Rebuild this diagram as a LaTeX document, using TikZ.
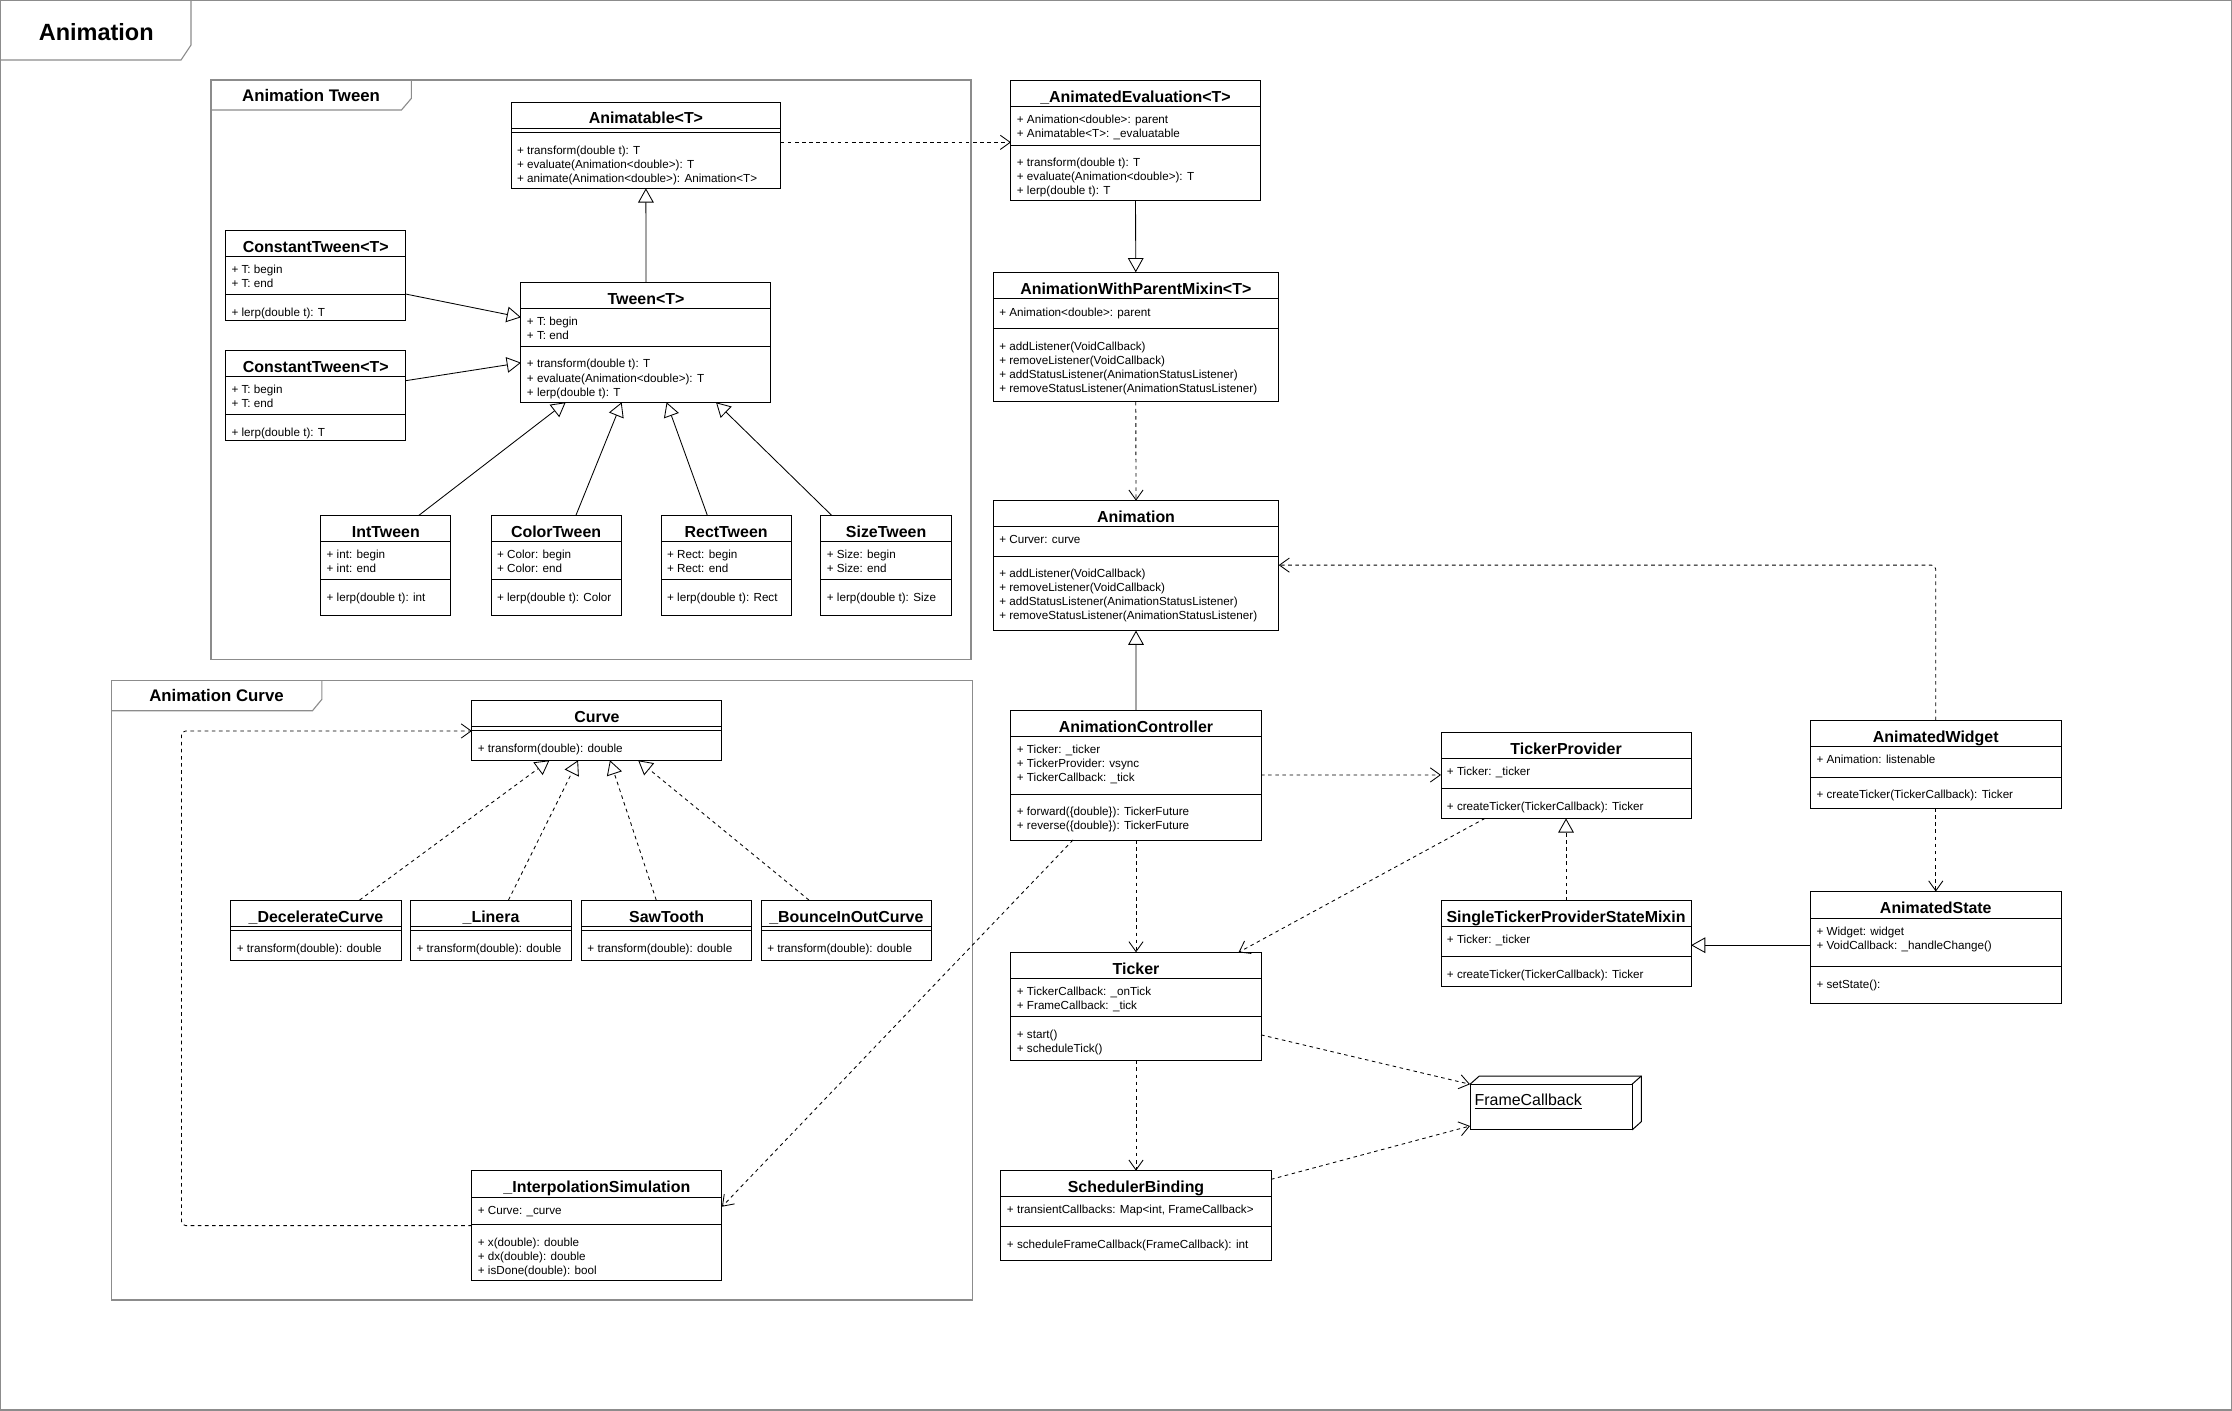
\documentclass[tikz,border=0pt]{standalone}
\usepackage{fontspec}
\setmainfont{Liberation Sans}
\usetikzlibrary{arrows.meta, calc}
\definecolor{frame3}{HTML}{8C8C8C}

% #1 id, #2 top left, #3 width, #4 height, #5 header, #6 separator, #7 name, #8 fields, #9 methods
\newcommand{\umlclass}[9]{%
  \node[classbox, minimum width=#3pt, minimum height=#4pt, anchor=north west] (#1) at (#2) {};
  \node[classname] (#1-name) at ($(#1.north)+(0,-#5+3)$) {#7};
  \draw[boxline] ($(#1.north west)+(0,-#5)$) -- ($(#1.north east)+(0,-#5)$);
  \draw[boxline] ($(#1.north west)+(0,-#6)$) -- ($(#1.north east)+(0,-#6)$);
  \foreach \m [count=\i] in {#8} {\node[member] (#1-a\i) at ($(#1.north west)+(4,-#5-12-9.9*\i+9.9)$) {\m};}
  \foreach \m [count=\i] in {#9} {\node[member] (#1-m\i) at ($(#1.north west)+(4,-#6-15.2-9.9*\i+9.9)$) {\m};}
}

\begin{document}
\begin{tikzpicture}[x=1pt, y=1pt,
  classbox/.style={draw=black, line width=0.7pt, fill=white, inner sep=0pt, outer sep=0pt},
  boxline/.style={black, line width=0.7pt},
  classname/.style={font=\fontsize{11.2}{13}\selectfont\bfseries, inner sep=0pt, anchor=base},
  member/.style={font=\fontsize{8.2}{10}\selectfont, inner sep=0pt, anchor=base west},
  frame/.style={draw=frame3, line width=0.8pt},
  inherit/.style={line width=0.6pt, -{Triangle[open, length=10pt, width=11pt]}},
  realize/.style={inherit, dash pattern=on 2.5pt off 2.5pt},
  depend/.style={line width=0.6pt, dash pattern=on 2.5pt off 2.5pt, -{Straight Barb[length=7pt, width=10pt]}}]

  \useasboundingbox (0,0) rectangle (1568,-991);

  % packages
  \draw[frame] (0.5,-0.5) rectangle (1567.5,-990.5);
  \draw[frame] (0.5,-42.1) -- (127.2,-42.1) -- (134.2,-31.6) -- (134.2,-0.5);
  \node[anchor=base, inner sep=0pt, font=\fontsize{16.5}{18}\selectfont\bfseries] (title) at (67.6,-28.6) {Animation};

  \draw[frame] (148.2,-56.2) rectangle (682.1,-463.2);
  \draw[frame] (148.2,-77.3) -- (282,-77.3) -- (289,-69.1) -- (289,-56.2);
  \node[anchor=base, inner sep=0pt, font=\fontsize{11.8}{14}\selectfont\bfseries] (tweenPkg) at (218.5,-71.6) {Animation Tween};

  \draw[frame] (78.1,-478.2) rectangle (683.2,-913.2);
  \draw[frame] (78.1,-499.3) -- (219.5,-499.3) -- (226.1,-491.3) -- (226.1,-478.2);
  \node[anchor=base, inner sep=0pt, font=\fontsize{11.8}{14}\selectfont\bfseries] (curvePkg) at (152.1,-493.1) {Animation Curve};

  % Animation Tween
  \umlclass{animatable}{359,-72}{189.5}{60.3}{18}{21}{Animatable<T>}{}
    {+ transform(double t): T, + evaluate(Animation<double>): T, + animate(Animation<double>): Animation<T>}
  \umlclass{tween}{366,-198.3}{175.6}{84.3}{18.6}{45}{Tween<T>}{+ T: begin, + T: end}
    {+ transform(double t): T, + evaluate(Animation<double>): T, + lerp(double t): T}
  \umlclass{constA}{158.5,-161.8}{126.7}{63.2}{18.3}{45.2}{ConstantTween<T>}{+ T: begin, + T: end}{+ lerp(double t): T}
  \umlclass{constB}{158.5,-246.1}{126.7}{63.2}{18.3}{45.2}{ConstantTween<T>}{+ T: begin, + T: end}{+ lerp(double t): T}
  \umlclass{intTween}{225.3,-362}{91.5}{70.2}{18.5}{45.2}{IntTween}{+ int: begin, + int: end}{+ lerp(double t): int}
  \umlclass{colorTween}{345,-362}{91.3}{70.2}{18.5}{45.2}{ColorTween}{+ Color: begin, + Color: end}{+ lerp(double t): Color}
  \umlclass{rectTween}{464.5,-362}{91.2}{70.2}{18.5}{45.2}{RectTween}{+ Rect: begin, + Rect: end}{+ lerp(double t): Rect}
  \umlclass{sizeTween}{576.7,-362}{91.6}{70.2}{18.5}{45.2}{SizeTween}{+ Size: begin, + Size: end}{+ lerp(double t): Size}

  % Animation Curve
  \umlclass{curve}{331.5,-492.2}{175.7}{41.9}{18.3}{21.1}{Curve}{}{+ transform(double): double}
  \umlclass{decel}{162.2,-632.3}{119.6}{42.3}{18.7}{21.3}{\_DecelerateCurve}{}{+ transform(double): double}
  \umlclass{linera}{288.5,-632.3}{112.9}{42.3}{18.7}{21.3}{\_Linera}{}{+ transform(double): double}
  \umlclass{sawTooth}{408.5,-632.3}{119.6}{42.3}{18.7}{21.3}{SawTooth}{}{+ transform(double): double}
  \umlclass{bounce}{534.8,-632.3}{119.6}{42.3}{18.7}{21.3}{\_BounceInOutCurve}{}{+ transform(double): double}
  \umlclass{interp}{331.5,-822.2}{175.7}{77.2}{18.7}{38.1}{\_InterpolationSimulation}{+ Curve: \_curve}
    {+ x(double): double, + dx(double): double, + isDone(double): bool}

  % right column
  \umlclass{animEval}{710.2,-56.7}{175}{84}{18.2}{45.2}{\_AnimatedEvaluation<T>}
    {+ Animation<double>: parent, + Animatable<T>: \_evaluatable}
    {+ transform(double t): T, + evaluate(Animation<double>): T, + lerp(double t): T}
  \umlclass{parentMixin}{697.8,-191.3}{200.2}{91}{18.7}{39.4}{AnimationWithParentMixin<T>}{+ Animation<double>: parent}
    {+ addListener(VoidCallback), + removeListener(VoidCallback), + addStatusListener(AnimationStatusListener), + removeStatusListener(AnimationStatusListener)}
  \umlclass{animation}{697.8,-351.7}{200.5}{91.3}{18.3}{38.9}{Animation}{+ Curver: curve}
    {+ addListener(VoidCallback), + removeListener(VoidCallback), + addStatusListener(AnimationStatusListener), + removeStatusListener(AnimationStatusListener)}
  \umlclass{controller}{710.2,-498.8}{175.7}{91.3}{18.7}{59}{AnimationController}
    {+ Ticker: \_ticker, + TickerProvider: vsync, + TickerCallback: \_tick}
    {+ forward(\{double\}): TickerFuture, + reverse(\{double\}): TickerFuture}
  \umlclass{ticker}{710.2,-669}{175.7}{75.9}{18.5}{45.2}{Ticker}{+ TickerCallback: \_onTick, + FrameCallback: \_tick}
    {+ start(), + scheduleTick()}
  \umlclass{scheduler}{703.2,-822.4}{189.7}{62.8}{18.3}{39.3}{SchedulerBinding}
    {{+ transientCallbacks: Map<int, FrameCallback>}}{+ scheduleFrameCallback(FrameCallback): int}
  \umlclass{tickerProvider}{1012.3,-514.7}{175.7}{60.2}{18.3}{39.4}{TickerProvider}{+ Ticker: \_ticker}
    {+ createTicker(TickerCallback): Ticker}
  \umlclass{singleTicker}{1012.3,-632.7}{175.7}{60.2}{18.3}{39.4}{SingleTickerProviderStateMixin}{+ Ticker: \_ticker}
    {+ createTicker(TickerCallback): Ticker}
  \umlclass{animWidget}{1271.9,-506}{176}{61.7}{18.6}{40}{AnimatedWidget}{+ Animation: listenable}
    {+ createTicker(TickerCallback): Ticker}
  \umlclass{animState}{1271.9,-626.3}{176}{78.6}{18.6}{52.9}{AnimatedState}{+ Widget: widget, + VoidCallback: \_handleChange()}
    {+ setState():}

  % FrameCallback node
  \node[classbox, minimum width=113.8pt, minimum height=32.1pt, anchor=north west] (frameCb) at (1032.7,-761.7) {};
  \draw[boxline] (frameCb.north west) -- ++(6.5,5.8) -- ++(113.8,0) -- ++(0,-32.1) -- (frameCb.south east);
  \draw[boxline] (frameCb.north east) -- ++(6.5,5.8);
  \node[anchor=base west, inner sep=0pt, font=\fontsize{11.2}{13}\selectfont] (frameCbText) at ($(frameCb.north west)+(3,-15.1)$) {\underline{FrameCallback}};

  % connectors
  \draw[inherit] (tween.north) -- (animatable.south);
  \draw[inherit] ($(constA.north east)+(0,-44.8)$) -- ($(tween.north west)+(0,-24.6)$);
  \draw[inherit] ($(constB.north east)+(0,-21.3)$) -- ($(tween.north west)+(0,-56.5)$);
  \draw[inherit] ($(intTween.north west)+(69,0)$) -- ($(tween.south west)+(31.4,0)$);
  \draw[inherit] ($(colorTween.north west)+(59.6,0)$) -- ($(tween.south west)+(70.7,0)$);
  \draw[inherit] ($(rectTween.north west)+(32.4,0)$) -- ($(tween.south west)+(102.3,0)$);
  \draw[inherit] ($(sizeTween.north west)+(7.5,0)$) -- ($(tween.south west)+(137,0)$);

  \draw[depend] ($(animatable.north east)+(0,-28)$) -- ($(animEval.north west)+(0,-43.3)$);
  \draw[inherit] (animEval.south) -- (parentMixin.north);
  \draw[depend] (parentMixin.south) -- (animation.north);
  \draw[inherit] (controller.north) -- (animation.south);
  \draw[depend] ($(controller.north east)+(0,-45.6)$) -- ($(tickerProvider.north west)+(0,-29.7)$);
  \draw[depend] (controller.south) -- (ticker.north);
  \draw[depend] ($(tickerProvider.south west)+(30.9,0)$) -- ($(ticker.north east)+(-15.8,0)$);
  \draw[realize] (singleTicker.north) -- (tickerProvider.south);
  \draw[inherit] ($(animState.north west)+(0,-37.7)$) -- ($(singleTicker.north east)+(0,-31.3)$);
  \draw[depend] (animWidget.south) -- (animState.north);
  \draw[depend, rounded corners=3pt] (animWidget.north) |- ($(animation.north east)+(0,-45.3)$);
  \draw[depend] ($(ticker.north east)+(0,-58)$) -- (frameCb.north west);
  \draw[depend] ($(scheduler.north east)+(0,-6.1)$) -- ($(frameCb.south west)+(0,2.8)$);
  \draw[depend] (ticker.south) -- (scheduler.north);

  \draw[realize] ($(decel.north west)+(90.4,0)$) -- ($(curve.south west)+(54.5,0)$);
  \draw[realize] ($(linera.north west)+(68.7,0)$) -- ($(curve.south west)+(74.6,0)$);
  \draw[realize] ($(sawTooth.north west)+(52.5,0)$) -- ($(curve.south west)+(97,0)$);
  \draw[realize] ($(bounce.north west)+(33.5,0)$) -- ($(curve.south west)+(116.8,0)$);
  \draw[depend, rounded corners=3pt] ($(interp.north west)+(0,-38.8)$) -- ++(-204,0) |- ($(curve.north west)+(0,-21.3)$);
  \draw[depend] ($(controller.south west)+(43.6,0)$) -- ($(interp.north east)+(0,-25.5)$);

\end{tikzpicture}
\end{document}
